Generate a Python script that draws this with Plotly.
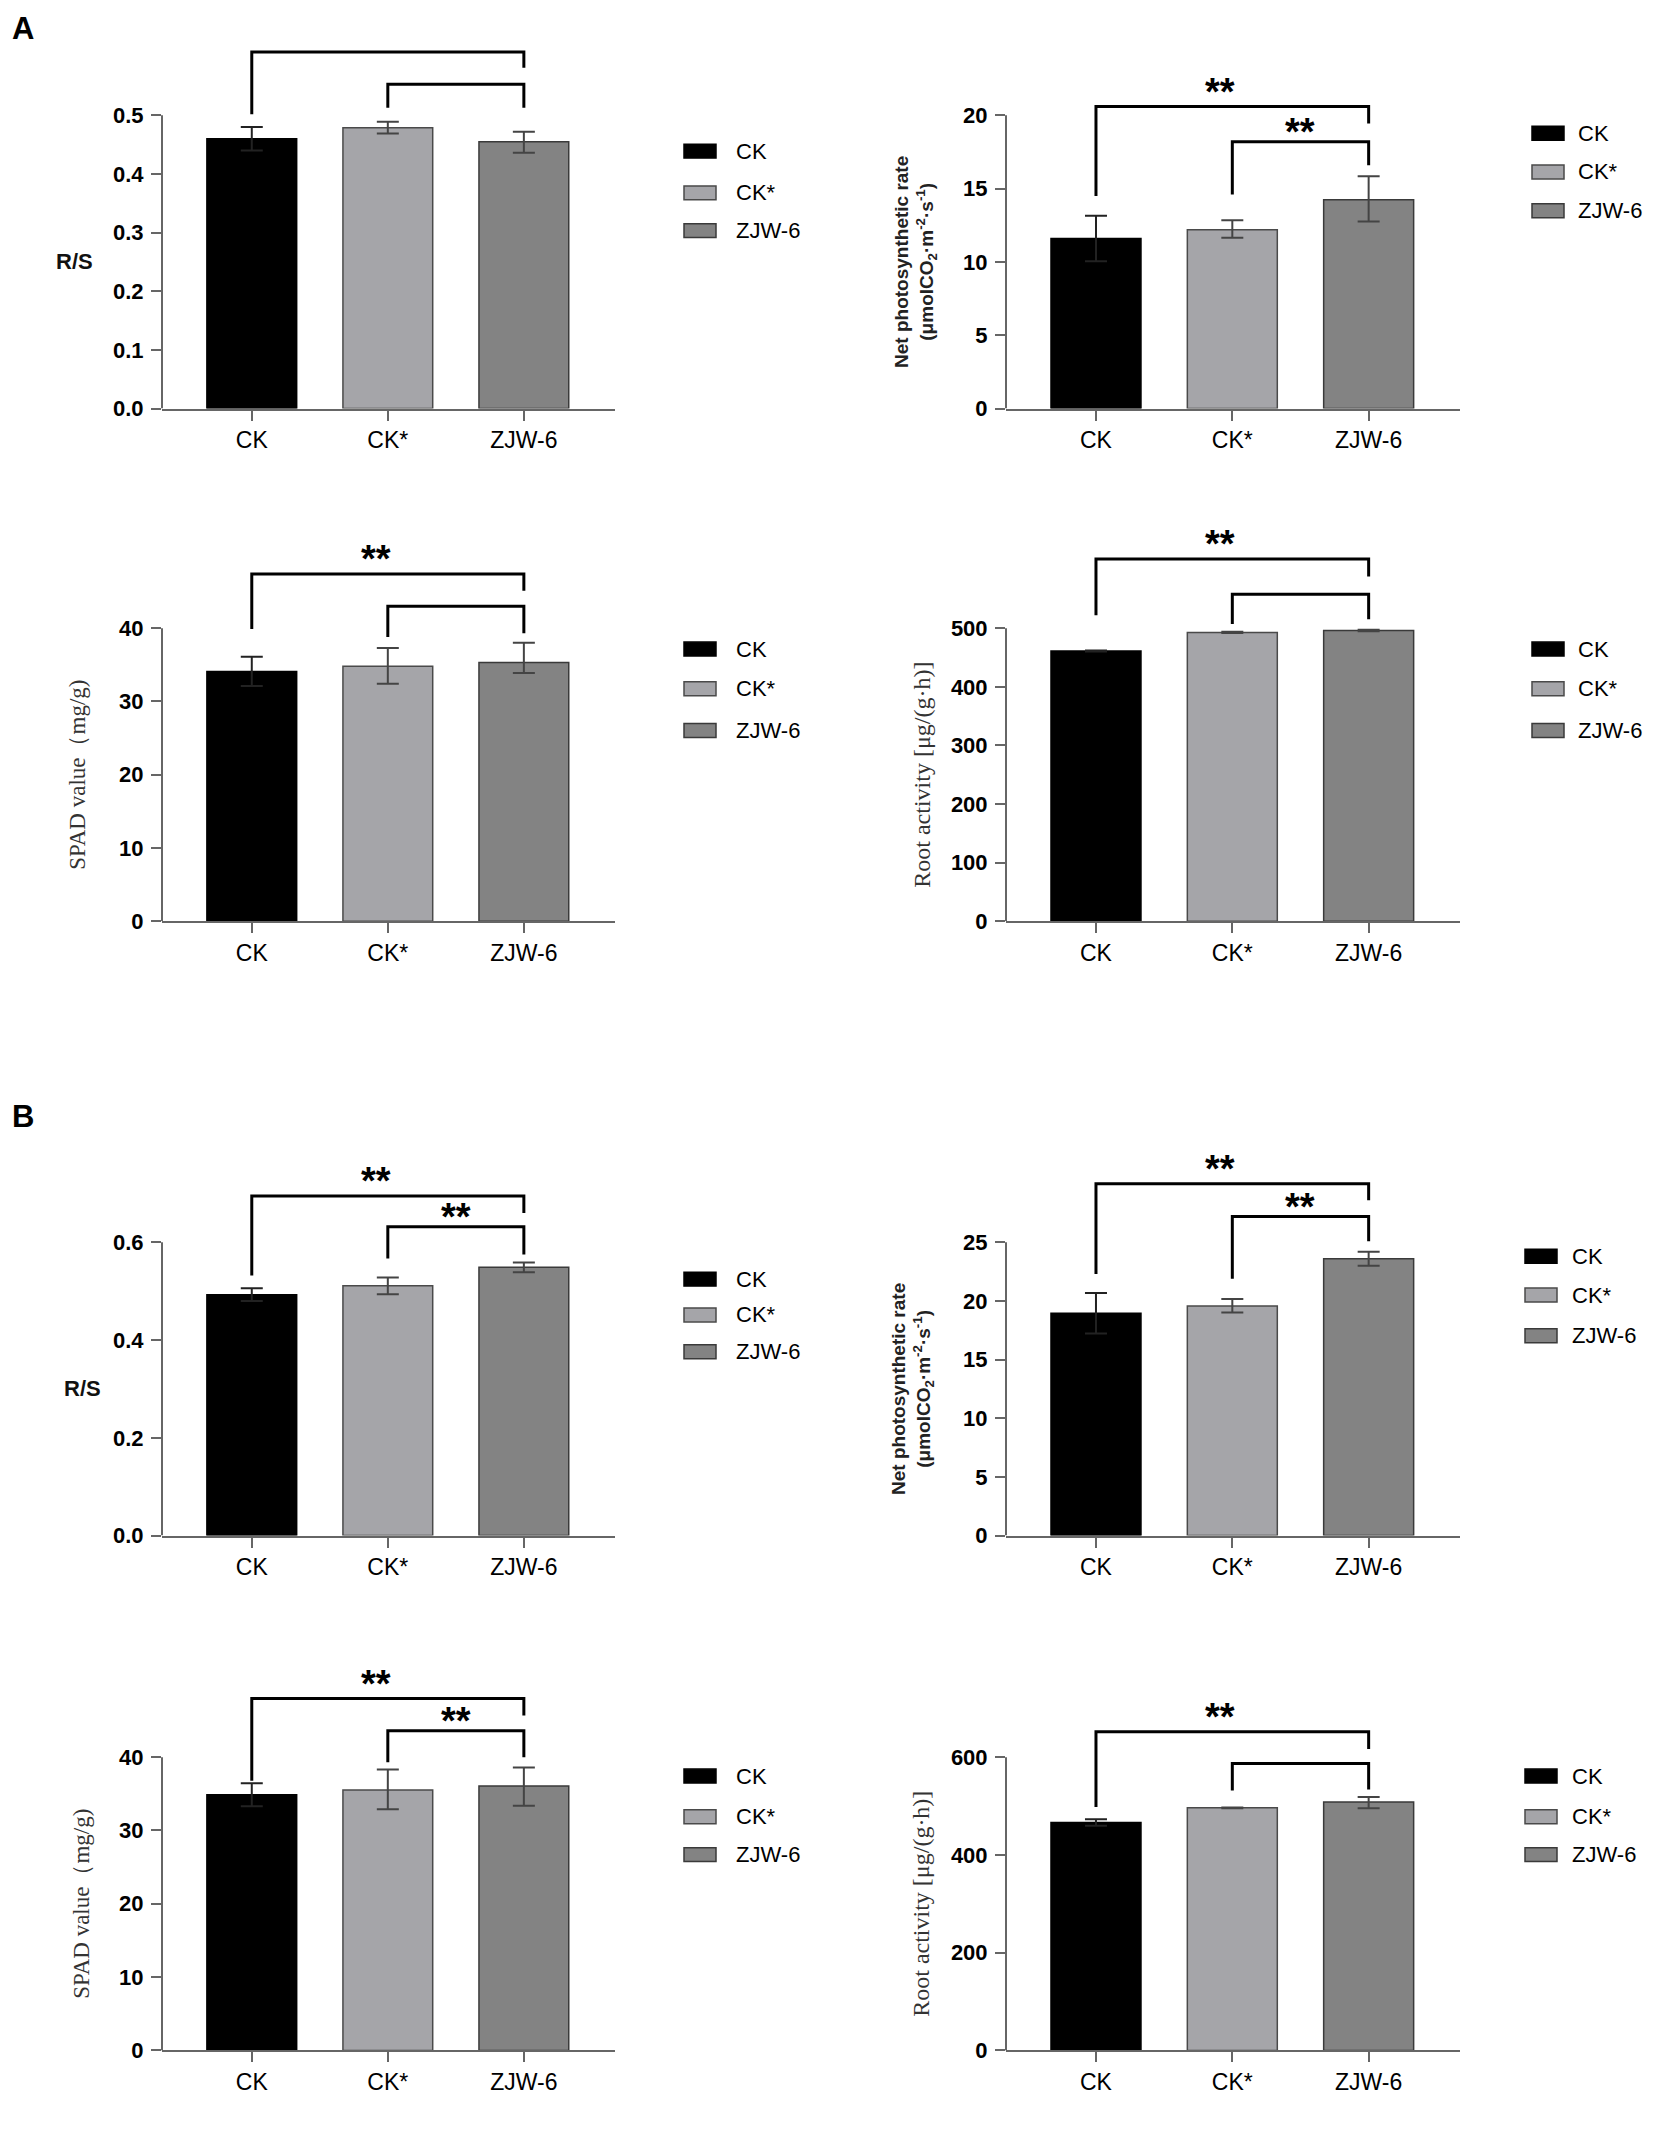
import plotly.graph_objects as go

# page has an 8px body margin, so the figure is a bit smaller than the window
REF_W, REF_H = 1654, 2133
PAD = 8
W, H = REF_W - 2 * PAD, REF_H - 2 * PAD


def fx(px):
    return (px - PAD) / W


def fy(py):
    return 1 - (py - PAD) / H


categories = ["CK", "CK*", "ZJW-6"]
bar_colors = ["#000000", "#a5a5a9", "#838383"]
edge_colors = ["#000000", "#4a4a4a", "#3a3a3a"]
err_colors = ["#222222", "#444444", "#444444"]

# ---- panel A ----
rs_a = [0.460, 0.479, 0.455]
rs_a_up = [0.020, 0.010, 0.017]
rs_a_dn = [0.020, 0.010, 0.019]

pn_a = [11.6, 12.2, 14.25]
pn_a_up = [1.55, 0.65, 1.6]
pn_a_dn = [1.55, 0.55, 1.5]

spad_a = [34.1, 34.8, 35.3]
spad_a_up = [2.0, 2.5, 2.7]
spad_a_dn = [2.0, 2.4, 1.4]

root_a = [461.0, 492.8, 496.1]
root_a_up = [1.0, 1.2, 1.2]
root_a_dn = [1.0, 1.2, 1.2]

# ---- panel B ----
rs_b = [0.493, 0.511, 0.549]
rs_b_up = [0.013, 0.017, 0.010]
rs_b_dn = [0.013, 0.017, 0.010]

pn_b = [18.95, 19.57, 23.6]
pn_b_up = [1.73, 0.6, 0.6]
pn_b_dn = [1.73, 0.55, 0.6]

spad_b = [34.87, 35.54, 36.08]
spad_b_up = [1.56, 2.77, 2.5]
spad_b_dn = [1.56, 2.63, 2.7]

root_b = [466.2, 496.3, 508.4]
root_b_up = [6.7, 1.0, 10.0]
root_b_dn = [6.7, 1.0, 13.0]

# significance brackets: (from, to, level, foot_from, foot_to, label)
rs_a_brk = [(0, 2, 0.608, 0.502, 0.581, ""), (1, 2, 0.553, 0.513, 0.513, "")]
pn_a_brk = [(0, 2, 20.6, 14.5, 19.45, "**"), (1, 2, 18.2, 14.6, 16.6, "**")]
spad_a_brk = [(0, 2, 47.4, 39.9, 45.1, "**"), (1, 2, 43.0, 38.8, 39.3, "")]
root_a_brk = [(0, 2, 618, 522, 588, "**"), (1, 2, 558, 507, 515, "")]
rs_b_brk = [(0, 2, 0.695, 0.532, 0.660, "**"), (1, 2, 0.632, 0.567, 0.575, "**")]
pn_b_brk = [(0, 2, 30.0, 22.3, 28.6, "**"), (1, 2, 27.2, 21.9, 25.1, "**")]
spad_b_brk = [(0, 2, 48.0, 36.8, 45.7, "**"), (1, 2, 43.6, 39.3, 40.0, "**")]
root_b_brk = [(0, 2, 652, 498, 617, "**"), (1, 2, 587, 532, 534, "")]

rs_a_ticks = [0, 0.1, 0.2, 0.3, 0.4, 0.5]
pn_a_ticks = [0, 5, 10, 15, 20]
spad_ticks = [0, 10, 20, 30, 40]
root_a_ticks = [0, 100, 200, 300, 400, 500]
rs_b_ticks = [0, 0.2, 0.4, 0.6]
pn_b_ticks = [0, 5, 10, 15, 20, 25]
root_b_ticks = [0, 200, 400, 600]

SANS = "Liberation Sans, Arial, sans-serif"
SERIF = "Liberation Serif, Times New Roman, serif"

rs_title = dict(text="R/S", angle=0,
                font=dict(family=SANS, size=22, color="#111", weight="bold"))
pn_title = dict(text="Net photosynthetic rate<br>(μmolCO<sub>2</sub>·m<sup>-2</sup>·s<sup>-1</sup>)", angle=-90,
                font=dict(family=SANS, size=19, color="#222", weight="bold"))
spad_title = dict(text="SPAD value（mg/g)", angle=-90,
                  font=dict(family=SERIF, size=23, color="#333"))
root_title = dict(text="Root activity [μg/(g·h)]", angle=-90,
                  font=dict(family=SERIF, size=24, color="#333"))

# grid layout in reference pixels
row_zero = [411, 927, 1545, 2063]
row_ratio = [1.3, 1.36, 1.33, 1.33]
plot_h = 295
col_x = [(162, 615), (1006, 1460)]

panels = [
    dict(v=rs_a, up=rs_a_up, dn=rs_a_dn, brk=rs_a_brk, ticks=rs_a_ticks, fmt="{:.1f}",
         row=0, col=0, title=rs_title, tx=74, leg=(684, 734, [152, 194, 232])),
    dict(v=pn_a, up=pn_a_up, dn=pn_a_dn, brk=pn_a_brk, ticks=pn_a_ticks, fmt="{:g}",
         row=0, col=1, title=pn_title, tx=916, leg=(1532, 1576, [134, 173, 212])),
    dict(v=spad_a, up=spad_a_up, dn=spad_a_dn, brk=spad_a_brk, ticks=spad_ticks, fmt="{:g}",
         row=1, col=0, title=spad_title, tx=78, leg=(684, 734, [653, 693, 735])),
    dict(v=root_a, up=root_a_up, dn=root_a_dn, brk=root_a_brk, ticks=root_a_ticks, fmt="{:g}",
         row=1, col=1, title=root_title, tx=922, leg=(1532, 1576, [653, 693, 735])),
    dict(v=rs_b, up=rs_b_up, dn=rs_b_dn, brk=rs_b_brk, ticks=rs_b_ticks, fmt="{:.1f}",
         row=2, col=0, title=rs_title, tx=82, leg=(684, 734, [1287, 1323, 1360])),
    dict(v=pn_b, up=pn_b_up, dn=pn_b_dn, brk=pn_b_brk, ticks=pn_b_ticks, fmt="{:g}",
         row=2, col=1, title=pn_title, tx=913, leg=(1525, 1570, [1264, 1303, 1344])),
    dict(v=spad_b, up=spad_b_up, dn=spad_b_dn, brk=spad_b_brk, ticks=spad_ticks, fmt="{:g}",
         row=3, col=0, title=spad_title, tx=82, leg=(684, 734, [1787, 1828, 1866])),
    dict(v=root_b, up=root_b_up, dn=root_b_dn, brk=root_b_brk, ticks=root_b_ticks, fmt="{:g}",
         row=3, col=1, title=root_title, tx=921, leg=(1525, 1570, [1787, 1828, 1866])),
]

fig = go.Figure()
shapes = []
annotations = []

for n, p in enumerate(panels, start=1):
    xa = "x" if n == 1 else f"x{n}"
    ya = "y" if n == 1 else f"y{n}"
    top_tick = p["ticks"][-1]
    y_max = top_tick * row_ratio[p["row"]]
    z = row_zero[p["row"]]
    top_px = z - plot_h * row_ratio[p["row"]]
    x0, x1 = col_x[p["col"]]

    for i, cat in enumerate(categories):
        fig.add_trace(go.Bar(
            x=[cat], y=[p["v"][i]], xaxis=xa, yaxis=ya, width=0.66,
            marker=dict(color=bar_colors[i], line=dict(color=edge_colors[i], width=1.5)),
            error_y=dict(type="data", symmetric=False, array=[p["up"][i]], arrayminus=[p["dn"][i]],
                         color=err_colors[i], thickness=2, width=11),
            showlegend=False, hoverinfo="skip",
        ))

    for (a, b, lvl, fa, fb, lab) in p["brk"]:
        fig.add_trace(go.Scatter(
            x=[categories[a], categories[a], categories[b], categories[b]],
            y=[fa, lvl, lvl, fb], xaxis=xa, yaxis=ya, mode="lines",
            line=dict(color="#000", width=3), showlegend=False, hoverinfo="skip",
        ))
        if lab:
            annotations.append(dict(
                text=lab, xref=xa, yref=ya, x=(a + b) / 2 - (0.09 if a == 0 else 0.0), y=lvl,
                xanchor="center", yanchor="bottom", yshift=(-8 if a == 0 else -13), showarrow=False,
                font=dict(family=SANS, size=38, color="#000", weight="bold"),
            ))

    fig.update_layout(**{
        ("xaxis" if n == 1 else f"xaxis{n}"): dict(
            domain=[fx(x0), fx(x1)], anchor=ya, type="category", categoryorder="array",
            categoryarray=categories, range=[-0.66, 2.67], showline=True, linecolor="#666",
            linewidth=2, ticks="outside", ticklen=10, tickwidth=2, tickcolor="#666",
            tickfont=dict(family=SANS, size=23, color="#000"), ticklabelstandoff=0,
            showgrid=False, zeroline=False, fixedrange=True,
        ),
        ("yaxis" if n == 1 else f"yaxis{n}"): dict(
            domain=[fy(z), fy(top_px)], anchor=xa, range=[0, y_max],
            tickvals=p["ticks"], ticktext=[p["fmt"].format(t) for t in p["ticks"]],
            ticks="outside", ticklen=10, tickwidth=2, tickcolor="#666", showline=False,
            tickfont=dict(family=SANS, size=22, color="#000", weight="bold"), ticklabelstandoff=3,
            showgrid=False, zeroline=False, fixedrange=True,
        ),
    })

    # y axis line only over the tick range
    shapes.append(dict(type="line", xref="paper", yref=ya, x0=fx(x0), x1=fx(x0), y0=0, y1=top_tick,
                       line=dict(color="#666", width=2)))

    annotations.append(dict(text=p["title"]["text"], font=p["title"]["font"], xref="paper", yref=ya,
                            x=fx(p["tx"]), y=top_tick / 2, textangle=p["title"]["angle"],
                            xanchor="center", yanchor="middle", showarrow=False))

    # legend block
    sx, tx, rows = p["leg"]
    for i, cat in enumerate(categories):
        ry = rows[i]
        shapes.append(dict(type="rect", xref="paper", yref="paper", x0=fx(sx), x1=fx(sx + 32),
                           y0=fy(ry + 7), y1=fy(ry - 7), fillcolor=bar_colors[i],
                           line=dict(color=edge_colors[i], width=1.5)))
        annotations.append(dict(text=cat, xref="paper", yref="paper", x=fx(tx), y=fy(ry),
                                xanchor="left", yanchor="middle", showarrow=False,
                                font=dict(family=SANS, size=22, color="#000")))

# panel letters, anchored by their top so they stay inside the page
for lab, py in [("A", 9), ("B", 1104)]:
    annotations.append(dict(text=lab, xref="paper", yref="paper", x=fx(10), y=fy(py),
                            xanchor="left", yanchor="top", showarrow=False,
                            font=dict(family=SANS, size=31, color="#000", weight="bold")))

fig.update_layout(
    width=W, height=H, margin=dict(l=0, r=0, t=0, b=0),
    paper_bgcolor="white", plot_bgcolor="white", barmode="overlay",
    shapes=shapes, annotations=annotations, showlegend=False,
)

fig.write_html("out.html")
